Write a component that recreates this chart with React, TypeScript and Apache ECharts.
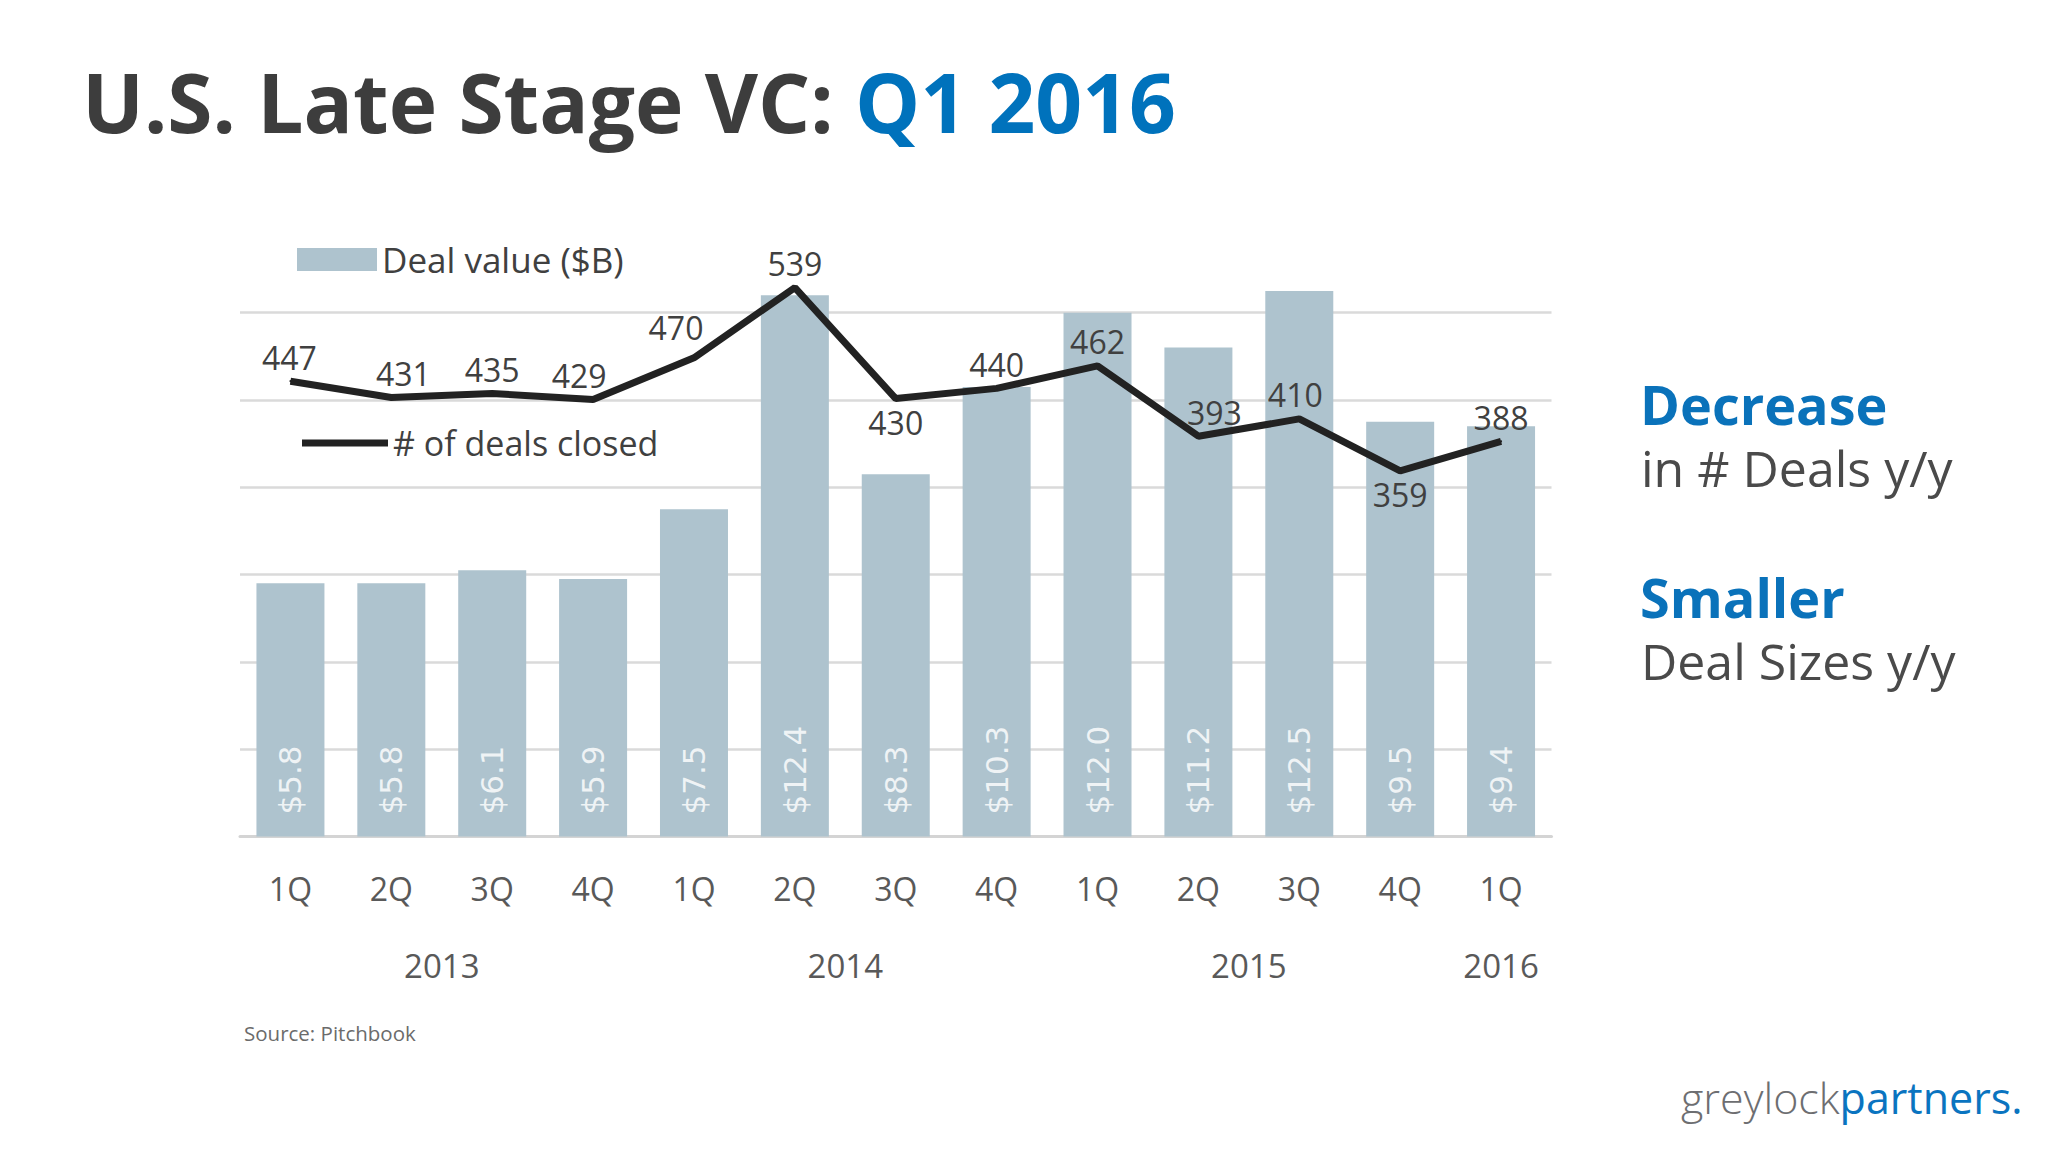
import React, { useEffect, useRef } from "react";
import * as echarts from "echarts";

const quarters = ["1Q", "2Q", "3Q", "4Q", "1Q", "2Q", "3Q", "4Q", "1Q", "2Q", "3Q", "4Q", "1Q"];
const years = ["2013", "2014", "2015", "2016"];
const yearCenters = [1.5, 5.5, 9.5, 12];
const dealValue = [5.8, 5.8, 6.1, 5.9, 7.5, 12.4, 8.3, 10.3, 12.0, 11.2, 12.5, 9.5, 9.4];
const dealCount = [447, 431, 435, 429, 470, 539, 430, 440, 462, 393, 410, 359, 388];

const seriesNames = ["Deal value ($B)", "# of deals closed"];

const FONT = "'Open Sans', 'Noto Sans', sans-serif";
const BLUE = "#0a72ba";
const DARK = "#404040";

export default function App() {
  const ref = useRef<HTMLDivElement>(null);

  useEffect(() => {
    document.body.style.margin = "0";
    const chart = echarts.init(ref.current!, null, { renderer: "svg" });

    const labelBelow = new Set([6, 11]);
    const labelShiftX: Record<number, number> = { 0: -1, 1: 12, 3: -14, 4: -18, 9: 16, 10: -4 };
    const labelShiftY: Record<number, number> = { 4: -6 };

    const lineData = dealCount.map((v, i) => ({
      value: v,
      label: {
        position: labelBelow.has(i) ? "bottom" : "top",
        offset: [labelShiftX[i] || 0, labelShiftY[i] || 0],
      },
    }));

    chart.setOption({
      animation: false,
      backgroundColor: "#ffffff",
      grid: { left: 240, right: 496.5, top: 225.4, bottom: 315.5, containLabel: false },
      legend: [
        {
          data: [seriesNames[0]],
          left: 297,
          top: 242,
          padding: 0,
          icon: "rect",
          itemWidth: 80,
          itemHeight: 23,
          textStyle: { fontFamily: FONT, fontSize: 35, color: DARK, lineHeight: 35 },
        },
        {
          data: [seriesNames[1]],
          left: 302,
          top: 426,
          padding: 0,
          icon: "rect",
          itemWidth: 86,
          itemHeight: 7,
          textStyle: { fontFamily: FONT, fontSize: 34, color: DARK, lineHeight: 34 },
        },
      ],
      xAxis: [
        {
          type: "category",
          data: quarters,
          axisTick: { show: false },
          axisLine: { show: true, lineStyle: { color: "#d4d4d4", width: 3 } },
          axisLabel: { fontFamily: FONT, fontSize: 32, color: "#595959", margin: 36 },
        },
        {
          type: "value",
          min: -0.5,
          max: 12.5,
          position: "bottom",
          axisLine: { show: false },
          axisTick: { show: false },
          splitLine: { show: false },
          axisLabel: {
            customValues: yearCenters,
            formatter: (v: number) => {
              const k = yearCenters.indexOf(v);
              return k >= 0 ? years[k] : "";
            },
            fontFamily: FONT,
            fontSize: 33,
            color: "#595959",
            margin: 112,
          },
        },
      ],
      yAxis: [
        {
          type: "value",
          min: 0,
          max: 14,
          interval: 2,
          axisLabel: { show: false },
          axisLine: { show: false },
          axisTick: { show: false },
          splitLine: { show: true, showMaxLine: false, showMinLine: false, lineStyle: { color: "#dadada", width: 2.5 } },
        },
        {
          type: "value",
          min: 0,
          max: 600,
          show: false,
          splitLine: { show: false },
        },
      ],
      series: [
        {
          name: seriesNames[0],
          type: "bar",
          data: dealValue,
          xAxisIndex: 0,
          yAxisIndex: 0,
          barWidth: 68,
          itemStyle: { color: "#aec3ce" },
          label: {
            show: true,
            position: "insideBottom",
            rotate: 90,
            align: "left",
            verticalAlign: "middle",
            distance: 22,
            formatter: (p: any) => "$" + Number(p.value).toFixed(1),
            fontFamily: "'DejaVu Sans', sans-serif",
            fontSize: 31,
            color: "rgba(255,255,255,0.82)",
          },
        },
        {
          name: seriesNames[1],
          type: "line",
          data: lineData,
          xAxisIndex: 0,
          yAxisIndex: 1,
          symbol: "circle",
          symbolSize: 2,
          showSymbol: true,
          lineStyle: { color: "#222222", width: 7 },
          itemStyle: { color: "#222222" },
          label: {
            show: true,
            distance: 7,
            fontFamily: FONT,
            fontSize: 32,
            color: DARK,
          },
        },
      ],
      graphic: [
        {
          type: "text",
          left: 82,
          top: 60,
          style: {
            text: "{a|U.S. Late Stage VC: }{b|Q1 2016}",
            rich: {
              a: { fontFamily: FONT, fontWeight: "bold", fontSize: 82, fill: "#3d3d3d" },
              b: { fontFamily: FONT, fontWeight: "bold", fontSize: 82, fill: "#0072bc" },
            },
          },
        },
        {
          type: "text",
          x: 1640,
          y: 404,
          style: { text: "Decrease", fontFamily: FONT, fontWeight: "bold", fontSize: 54, lineHeight: 44, fill: BLUE, verticalAlign: "middle" },
        },
        {
          type: "text",
          x: 1641,
          y: 468,
          style: { text: "in # Deals y/y", fontFamily: FONT, fontSize: 50, lineHeight: 44, fill: "#4a4a4a", verticalAlign: "middle" },
        },
        {
          type: "text",
          x: 1640,
          y: 597,
          style: { text: "Smaller", fontFamily: FONT, fontWeight: "bold", fontSize: 54, lineHeight: 44, fill: BLUE, verticalAlign: "middle" },
        },
        {
          type: "text",
          x: 1641,
          y: 661,
          style: { text: "Deal Sizes y/y", fontFamily: FONT, fontSize: 50, lineHeight: 44, fill: "#4a4a4a", verticalAlign: "middle" },
        },
        {
          type: "text",
          x: 244,
          y: 1033,
          style: { text: "Source: Pitchbook", fontFamily: FONT, fontSize: 20.5, fill: "#6b6b6b", verticalAlign: "middle" },
        },
        {
          type: "text",
          x: 1681,
          y: 1097,
          style: {
            text: "{g|greylock}{p|partners.}",
            verticalAlign: "middle",
            rich: {
              g: { fontFamily: FONT, fontWeight: 300, fontSize: 43, fill: "#6d6e71" },
              p: { fontFamily: FONT, fontWeight: "normal", fontSize: 43, fill: "#0a74c0" },
            },
          },
        },
      ],
    });

    return () => chart.dispose();
  }, []);

  return (
    <div
      ref={ref}
      style={{ position: "absolute", left: 0, top: 0, width: 2048, height: 1152 }}
    />
  );
}
